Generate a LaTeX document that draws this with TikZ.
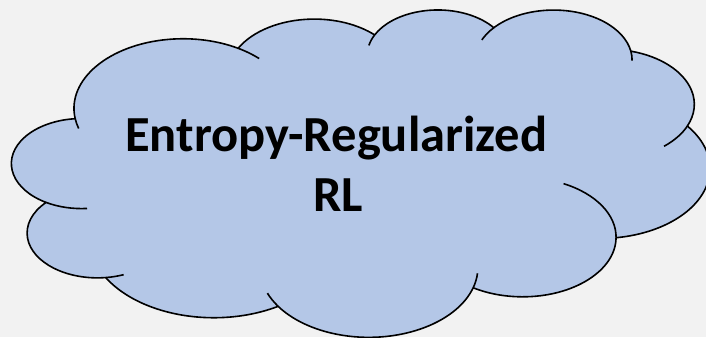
\documentclass[tikz,border=0pt]{standalone}
\usepackage{fontspec}
\setmainfont{Carlito}
\definecolor{bgcol}{HTML}{F2F2F2}
\definecolor{cloudfill}{HTML}{B4C7E7}
\tikzset{
  cloudline/.style={draw=black, line width=1.6pt, line join=round},
  cloudbody/.style={cloudline, fill=cloudfill},
  titletext/.style={font=\bfseries\fontsize{50.5}{60}\selectfont, inner sep=0pt, anchor=base}
}
\begin{document}
\begin{tikzpicture}
\fill[bgcol] (0,0) rectangle (706pt,-337pt);
\useasboundingbox (0,0) rectangle (706pt,-337pt);
\begin{scope}[shift={(12pt,-8.9pt)}, x={(1.615pt,0)}, y={(0,-0.7575pt)}]
  % outline of the cloud (preset cloud geometry, units of 1/432 of its box)
  \path[cloudbody] (39.00,143.70)
    arc[start angle=-187.747, end angle=-59.639, x radius=67.53, y radius=91.90]
    arc[start angle=-152.017, end angle=-45.438, x radius=53.33, y radius=72.67]
    arc[start angle=-153.493, end angle=-37.312, x radius=43.65, y radius=59.45]
    arc[start angle=-139.709, end angle=-10.212, x radius=48.57, y radius=65.95]
    arc[start angle=-74.767, end angle=23.208, x radius=53.33, y radius=72.73]
    arc[start angle=-37.516, end angle=81.862, x radius=67.75, y radius=92.20]
    arc[start angle=0.4596, end angle=121.977, x radius=57.85, y radius=78.67]
    arc[start angle=16.847, end angle=146.252, x radius=67.52, y radius=92.15]
    arc[start angle=58.988, end angle=150.198, x radius=77.20, y radius=105.43]
    arc[start angle=83.306, end angle=223.086, x radius=43.60, y radius=59.18]
    arc[start angle=120.353, end angle=264.112, x radius=43.45, y radius=59.45]
    -- cycle;
  % inner creases
  \coordinate (e1) at (105.914,131.312);
  \coordinate (e3) at (263.626,60.869);
  \coordinate (e4) at (335.390,67.472);
  \coordinate (e5) at (369.179,125.955);
  \coordinate (e7) at (316.202,301.413);
  \coordinate (e8) at (220.943,341.437);
  \coordinate (e10) at (52.958,295.887);
  \coordinate (e11) at (43.068,204.171);
  \draw[cloudline] (e11) ++(85.546:43.45 and 59.45) arc[start angle=85.546, end angle=120.353, x radius=43.45, y radius=59.45];
  \draw[cloudline] (e10) ++(68.233:43.60 and 59.18) arc[start angle=68.233, end angle=83.306, x radius=43.60, y radius=59.18];
  \draw[cloudline] (e8) ++(146.252:67.52 and 92.15) arc[start angle=146.252, end angle=158.474, x radius=67.52, y radius=92.15];
  \draw[cloudline] (e8) ++(4.738:67.52 and 92.15) arc[start angle=4.738, end angle=16.847, x radius=67.52, y radius=92.15];
  \draw[cloudline] (e7) ++(-64.028:57.85 and 78.67) arc[start angle=-64.028, end angle=0.4596, x radius=57.85, y radius=78.67];
  \draw[cloudline] (e5) ++(23.208:53.33 and 72.73) arc[start angle=23.208, end angle=49.630, x radius=53.33, y radius=72.73];
  \draw[cloudline] (e4) ++(-10.212:48.57 and 65.95) arc[start angle=-10.212, end angle=0.821, x radius=48.57, y radius=65.95];
  \draw[cloudline] (e4) ++(-156.285:48.57 and 65.95) arc[start angle=-156.285, end angle=-139.709, x radius=48.57, y radius=65.95];
  \draw[cloudline] (e3) ++(-167.726:43.65 and 59.45) arc[start angle=-167.726, end angle=-153.493, x radius=43.65, y radius=59.45];
  \draw[cloudline] (e1) ++(-59.639:67.53 and 91.90) arc[start angle=-59.639, end angle=-45.746, x radius=67.53, y radius=91.90];
  \draw[cloudline] (e1) ++(163.194:67.53 and 91.90) arc[start angle=163.194, end angle=172.253, x radius=67.53, y radius=91.90];
\end{scope}
\node[titletext] (line1) at (336.3pt,-151.7pt) {Entropy-Regularized};
\node[titletext] (line2) at (337.9pt,-211.7pt) {RL};
\end{tikzpicture}
\end{document}
